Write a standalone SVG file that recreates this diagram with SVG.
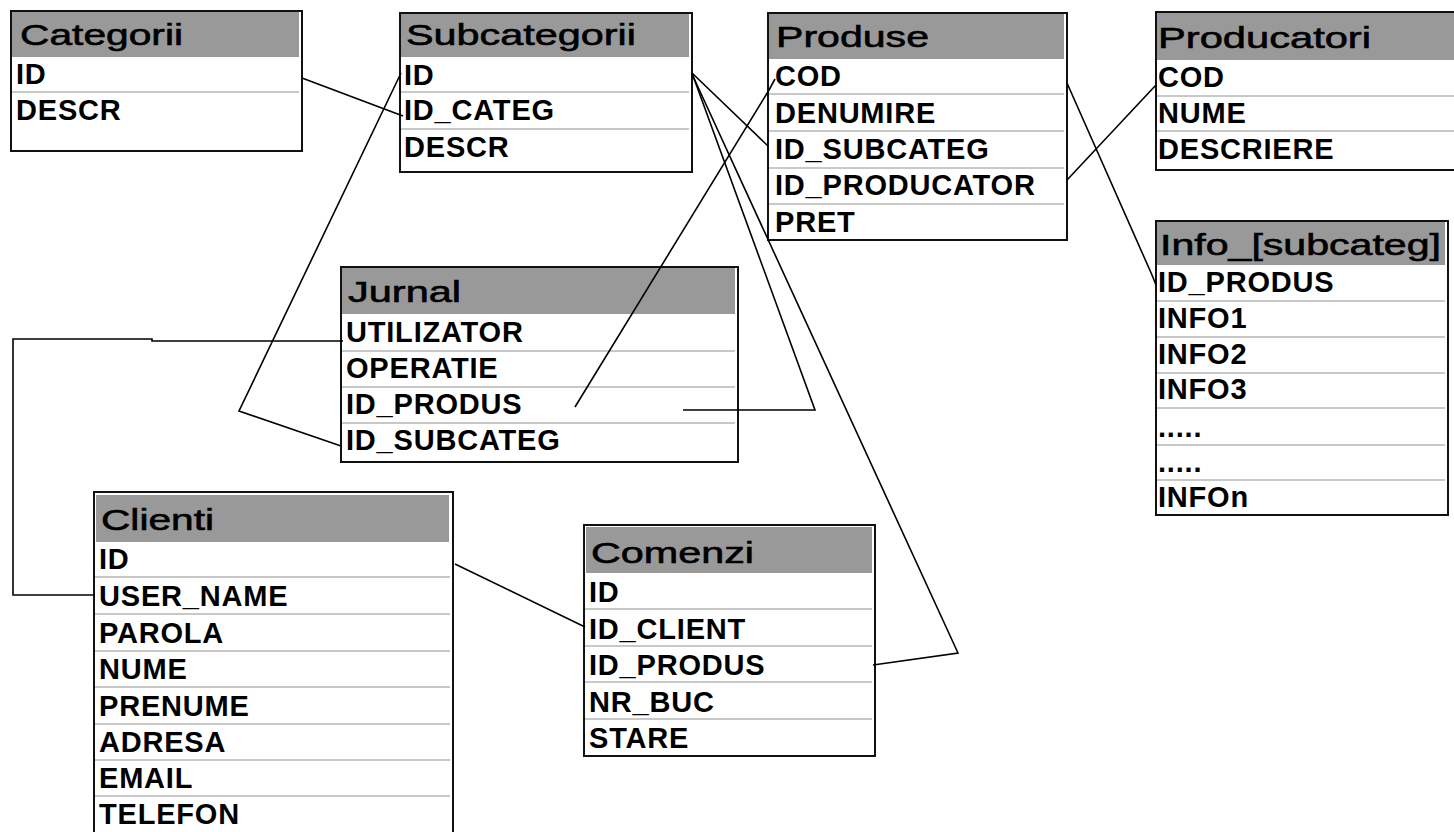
<svg xmlns="http://www.w3.org/2000/svg" width="1454" height="832" viewBox="0 0 1454 832">
<style>
.box{fill:#fff;stroke:#111;stroke-width:2}
.hdr{fill:#999}
.sep{stroke:#c8c8c8;stroke-width:2}
.title{font-family:"Liberation Sans",Arial,sans-serif;font-size:30px;fill:#000;stroke:#000;stroke-width:0.6}
.fld{font-family:"Liberation Sans",Arial,sans-serif;font-size:29px;font-weight:bold;fill:#000;letter-spacing:0.8px}
.conn{fill:none;stroke:#000;stroke-width:1.6}
</style>
<rect width="1454" height="832" fill="#fff"/>

<g id="categorii">
<rect class="box" x="11" y="11" width="291" height="140"/>
<rect class="hdr" x="12" y="12" width="287" height="45"/>
<line class="sep" x1="12" y1="92" x2="299" y2="92"/>
<text class="title" x="20" y="45" textLength="163" lengthAdjust="spacingAndGlyphs">Categorii</text>
<text class="fld" x="16" y="84">ID</text>
<text class="fld" x="16" y="120">DESCR</text>
</g>

<g id="subcategorii">
<rect class="box" x="400" y="13" width="292" height="159"/>
<rect class="hdr" x="401" y="14" width="288" height="43"/>
<line class="sep" x1="401" y1="92" x2="689" y2="92"/>
<line class="sep" x1="401" y1="129" x2="689" y2="129"/>
<text class="title" x="406" y="45" textLength="230" lengthAdjust="spacingAndGlyphs">Subcategorii</text>
<text class="fld" x="404" y="85">ID</text>
<text class="fld" x="404" y="120">ID_CATEG</text>
<text class="fld" x="404" y="157">DESCR</text>
</g>

<g id="produse">
<rect class="box" x="768" y="13" width="299" height="227"/>
<rect class="hdr" x="769" y="14" width="295" height="45"/>
<line class="sep" x1="769" y1="94" x2="1064" y2="94"/>
<line class="sep" x1="769" y1="131" x2="1064" y2="131"/>
<line class="sep" x1="769" y1="168" x2="1064" y2="168"/>
<line class="sep" x1="769" y1="204" x2="1064" y2="204"/>
<text class="title" x="776" y="47" textLength="153" lengthAdjust="spacingAndGlyphs">Produse</text>
<text class="fld" x="775" y="86">COD</text>
<text class="fld" x="775" y="123">DENUMIRE</text>
<text class="fld" x="775" y="159">ID_SUBCATEG</text>
<text class="fld" x="775" y="195">ID_PRODUCATOR</text>
<text class="fld" x="775" y="232">PRET</text>
</g>

<g id="producatori">
<rect class="box" x="1156" y="12" width="302" height="158"/>
<rect class="hdr" x="1157" y="13" width="300" height="47"/>
<line class="sep" x1="1157" y1="96" x2="1456" y2="96"/>
<line class="sep" x1="1157" y1="131" x2="1456" y2="131"/>
<text class="title" x="1158" y="48" textLength="213" lengthAdjust="spacingAndGlyphs">Producatori</text>
<text class="fld" x="1158" y="87">COD</text>
<text class="fld" x="1158" y="123">NUME</text>
<text class="fld" x="1158" y="159">DESCRIERE</text>
</g>

<g id="info">
<rect class="box" x="1156" y="221" width="292" height="294"/>
<rect class="hdr" x="1157" y="222" width="288" height="43"/>
<line class="sep" x1="1157" y1="301" x2="1445" y2="301"/>
<line class="sep" x1="1157" y1="337" x2="1445" y2="337"/>
<line class="sep" x1="1157" y1="373" x2="1445" y2="373"/>
<line class="sep" x1="1157" y1="408" x2="1445" y2="408"/>
<line class="sep" x1="1157" y1="445" x2="1445" y2="445"/>
<line class="sep" x1="1157" y1="480" x2="1445" y2="480"/>
<text class="title" x="1160" y="255" textLength="281" lengthAdjust="spacingAndGlyphs">Info_[subcateg]</text>
<text class="fld" x="1158" y="292">ID_PRODUS</text>
<text class="fld" x="1158" y="328">INFO1</text>
<text class="fld" x="1158" y="364">INFO2</text>
<text class="fld" x="1158" y="399">INFO3</text>
<text class="fld" x="1158" y="437">.....</text>
<text class="fld" x="1158" y="472">.....</text>
<text class="fld" x="1158" y="507">INFOn</text>
</g>

<g id="jurnal">
<rect class="box" x="341" y="267" width="397" height="195"/>
<rect class="hdr" x="342" y="268" width="393" height="46"/>
<line class="sep" x1="342" y1="351" x2="735" y2="351"/>
<line class="sep" x1="342" y1="387" x2="735" y2="387"/>
<line class="sep" x1="342" y1="423" x2="735" y2="423"/>
<text class="title" x="348" y="302" textLength="113" lengthAdjust="spacingAndGlyphs">Jurnal</text>
<text class="fld" x="346" y="342">UTILIZATOR</text>
<text class="fld" x="346" y="378">OPERATIE</text>
<text class="fld" x="346" y="414">ID_PRODUS</text>
<text class="fld" x="346" y="450">ID_SUBCATEG</text>
</g>

<g id="clienti">
<rect class="box" x="94" y="492" width="359" height="344"/>
<rect class="hdr" x="96" y="495" width="353" height="47"/>
<line class="sep" x1="95" y1="577" x2="450" y2="577"/>
<line class="sep" x1="95" y1="614" x2="450" y2="614"/>
<line class="sep" x1="95" y1="651" x2="450" y2="651"/>
<line class="sep" x1="95" y1="687" x2="450" y2="687"/>
<line class="sep" x1="95" y1="724" x2="450" y2="724"/>
<line class="sep" x1="95" y1="760" x2="450" y2="760"/>
<line class="sep" x1="95" y1="796" x2="450" y2="796"/>
<text class="title" x="101" y="530" textLength="113" lengthAdjust="spacingAndGlyphs">Clienti</text>
<text class="fld" x="99" y="569">ID</text>
<text class="fld" x="99" y="606">USER_NAME</text>
<text class="fld" x="99" y="643">PAROLA</text>
<text class="fld" x="99" y="679">NUME</text>
<text class="fld" x="99" y="716">PRENUME</text>
<text class="fld" x="99" y="752">ADRESA</text>
<text class="fld" x="99" y="788">EMAIL</text>
<text class="fld" x="99" y="824">TELEFON</text>
</g>

<g id="comenzi">
<rect class="box" x="584" y="525" width="291" height="231"/>
<rect class="hdr" x="586" y="527" width="286" height="46"/>
<line class="sep" x1="585" y1="609" x2="872" y2="609"/>
<line class="sep" x1="585" y1="646" x2="872" y2="646"/>
<line class="sep" x1="585" y1="682" x2="872" y2="682"/>
<line class="sep" x1="585" y1="719" x2="872" y2="719"/>
<text class="title" x="591" y="563" textLength="163" lengthAdjust="spacingAndGlyphs">Comenzi</text>
<text class="fld" x="589" y="602">ID</text>
<text class="fld" x="589" y="639">ID_CLIENT</text>
<text class="fld" x="589" y="675">ID_PRODUS</text>
<text class="fld" x="589" y="712">NR_BUC</text>
<text class="fld" x="589" y="748">STARE</text>
</g>

<g id="connectors">
<path class="conn" d="M302,78 L403,116"/>
<path class="conn" d="M401,73 L239,411 L341,446"/>
<path class="conn" d="M343,341 H152 V339 H13 V595 H94"/>
<path class="conn" d="M455,564 L585,627"/>
<path class="conn" d="M873,665 L958,653 L692,74"/>
<path class="conn" d="M683,410 L815,410 L692,73"/>
<path class="conn" d="M768,146 L692,73"/>
<path class="conn" d="M775,79 L769,90 L575,407"/>
<path class="conn" d="M1067,180 L1156,85"/>
<path class="conn" d="M1067,83 L1152,275 L1156,285"/>
</g>
</svg>
